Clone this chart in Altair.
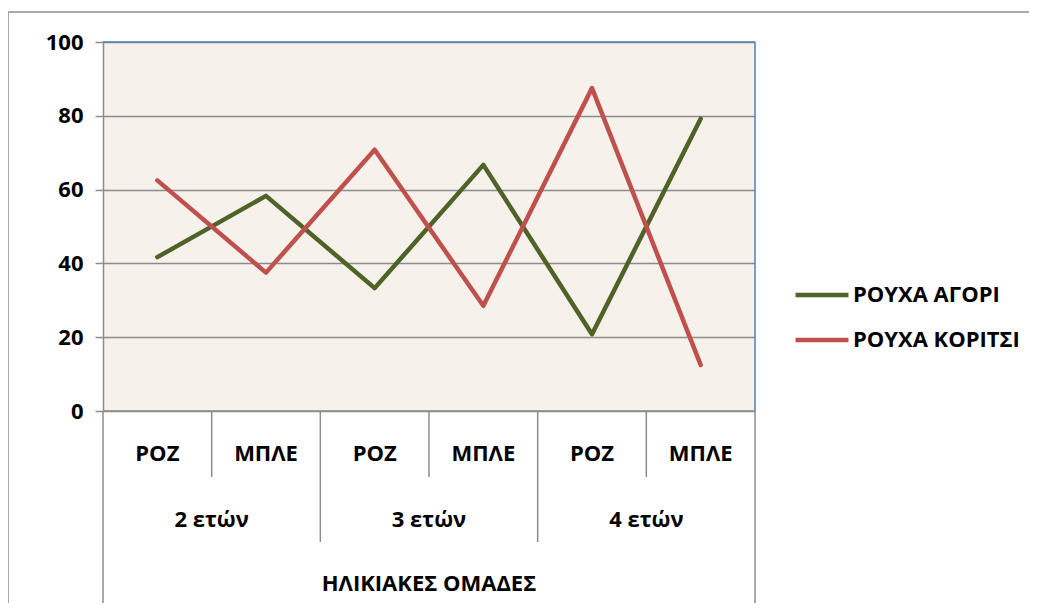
import altair as alt
import pandas as pd

sub_labels = ["ΡΟΖ", "ΜΠΛΕ", "ΡΟΖ", "ΜΠΛΕ", "ΡΟΖ", "ΜΠΛΕ"]
group_labels = ["2 ετών", "3 ετών", "4 ετών"]
series_names = ["ΡΟΥΧΑ ΑΓΟΡΙ", "ΡΟΥΧΑ ΚΟΡΙΤΣΙ"]
boys = [41.7, 58.3, 33.3, 66.7, 20.8, 79.2]
girls = [62.5, 37.5, 70.8, 28.5, 87.5, 12.5]
axis_title = "ΗΛΙΚΙΑΚΕΣ ΟΜΑΔΕΣ"
colors = ["#4F6228", "#C0504D"]

FONT = "Open Sans"
FS = 22
W, H = 652, 369

rows = []
for i, lab in enumerate(sub_labels):
    rows.append({"pos": i + 0.5, "cat": lab, "series": series_names[0], "value": boys[i]})
    rows.append({"pos": i + 0.5, "cat": lab, "series": series_names[1], "value": girls[i]})
df = pd.DataFrame(rows)

xs = alt.Scale(domain=[0, 6], nice=False, zero=False)
ys = alt.Scale(domain=[0, 100], nice=False)

# outer chart border (right/bottom edges fall outside the picture)
border = alt.Chart(pd.DataFrame({"a": [0]})).mark_rect(
    fillOpacity=0, stroke="#8E8E8E", strokeWidth=1.5
).encode(x=alt.value(-95), x2=alt.value(1000), y=alt.value(-30), y2=alt.value(650))

# axes base (y axis with grid)
base_axis = alt.Chart(df).mark_point(opacity=0).encode(
    x=alt.X("pos:Q", scale=xs, axis=None),
    y=alt.Y("value:Q", scale=ys, axis=alt.Axis(
        values=[0, 20, 40, 60, 80, 100], title=None, grid=True,
        gridColor="#8C8C8C", gridWidth=1.5, tickColor="#8C8C8C", tickSize=8,
        tickWidth=1.5, domainColor="#8C8C8C", domainWidth=1.5,
        labelFont=FONT, labelFontSize=FS, labelFontWeight="bold",
        labelColor="#000000", labelPadding=12)),
)

# plot-area top and right border in blue
blue_top = alt.Chart(pd.DataFrame({"x": [0], "x2": [6], "y": [100]})).mark_rule(
    color="#4F81BD", strokeWidth=1.5).encode(
    x=alt.X("x:Q", scale=xs), x2="x2:Q", y=alt.Y("y:Q", scale=ys))
blue_right = alt.Chart(pd.DataFrame({"x": [6], "y": [0], "y2": [100]})).mark_rule(
    color="#4F81BD", strokeWidth=1.5).encode(
    x=alt.X("x:Q", scale=xs), y=alt.Y("y:Q", scale=ys), y2="y2:Q")

# category axis structure
sep = pd.DataFrame({
    "x": [0, 1, 2, 3, 4, 5, 6],
    "y": [0] * 7,
    "y2": [-53.4, -17.9, -35.5, -17.9, -35.5, -17.9, -53.4],
})
seps = alt.Chart(sep).mark_rule(color="#8C8C8C", strokeWidth=1.5).encode(
    x=alt.X("x:Q", scale=xs), y=alt.Y("y:Q", scale=ys), y2="y2:Q")
baseline = alt.Chart(pd.DataFrame({"x": [0], "x2": [6], "y": [0]})).mark_rule(
    color="#8C8C8C", strokeWidth=1.5).encode(
    x=alt.X("x:Q", scale=xs), x2="x2:Q", y=alt.Y("y:Q", scale=ys))

sub_df = pd.DataFrame({"x": [i + 0.5 for i in range(6)], "t": sub_labels, "y": [-11.6] * 6})
grp_df = pd.DataFrame({"x": [1, 3, 5], "t": group_labels, "y": [-29.6] * 3})
ttl_df = pd.DataFrame({"x": [3], "t": [axis_title], "y": [-47.0]})

def txt(d):
    return alt.Chart(d).mark_text(
        font=FONT, fontSize=FS, fontWeight="bold", color="#000000", baseline="middle"
    ).encode(x=alt.X("x:Q", scale=xs), y=alt.Y("y:Q", scale=ys), text="t:N")

lines = alt.Chart(df).mark_line(strokeWidth=4.5, strokeCap="round", strokeJoin="round").encode(
    x=alt.X("pos:Q", scale=xs),
    y=alt.Y("value:Q", scale=ys),
    color=alt.Color("series:N", scale=alt.Scale(domain=series_names, range=colors),
                    legend=alt.Legend(
                        title=None, orient="none", legendX=690, legendY=224,
                        symbolType="stroke", symbolSize=2800, symbolStrokeWidth=4.5,
                        labelFont=FONT, labelFontSize=FS, labelFontWeight="bold",
                        labelColor="#000000", labelOffset=2, rowPadding=5,
                        labelLimit=400)),
)

chart = alt.layer(
    border, base_axis, seps, baseline, txt(sub_df), txt(grp_df), txt(ttl_df),
    lines, blue_top, blue_right
).properties(
    width=W, height=H, padding={"left": 95, "top": 34, "right": 274, "bottom": 192},
    autosize=alt.AutoSizeParams(type="none"),
    background="#FFFFFF",
).configure_view(
    fill="#F6F1EB", stroke=None
)

chart.save("out.html", embed_options={"renderer": "svg", "actions": False})
